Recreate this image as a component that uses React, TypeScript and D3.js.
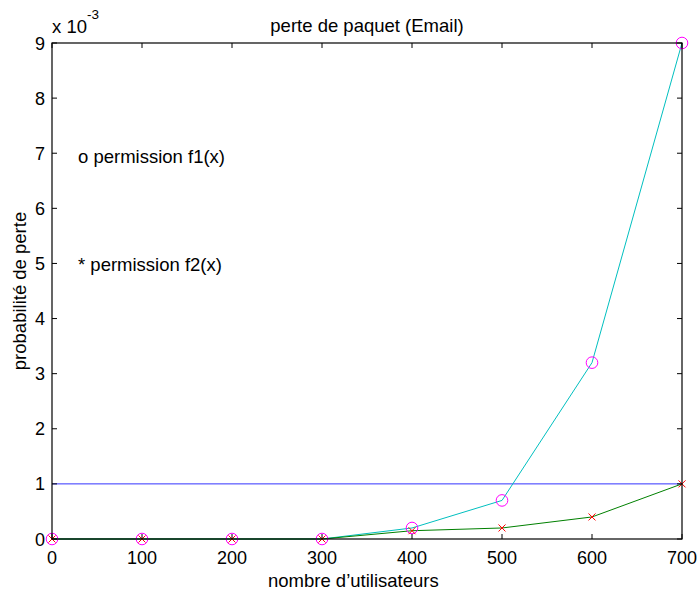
import React from "react";
import * as d3 from "d3";

const users = [0, 100, 200, 300, 400, 500, 600, 700];
const f1 = [0, 0, 0, 0, 0.0002, 0.0007, 0.0032, 0.009];
const f2 = [0, 0, 0, 0, 0.00015, 0.0002, 0.0004, 0.001];
const threshold = 0.001;
const xTicks = [0, 100, 200, 300, 400, 500, 600, 700];
const yTicks = [0, 1, 2, 3, 4, 5, 6, 7, 8, 9];

export default function App() {
  const W = 698, H = 593;
  const L = 52, R = 682, T = 43, B = 539;
  const x = d3.scaleLinear().domain([0, 700]).range([L, R]);
  const y = d3.scaleLinear().domain([0, 0.009]).range([B, T]);
  const font = "Liberation Sans, Arial, sans-serif";
  const line = d3.line<number>().x((_, i) => x(users[i])).y((d) => y(d));
  const tl = 5;
  return (
    <svg width={W} height={H} style={{ position: "absolute", left: 0, top: 0 }} fontFamily={font}>
      <rect x={0} y={0} width={W} height={H} fill="#fff" />
      <line x1={L} x2={R} y1={y(threshold)} y2={y(threshold)} stroke="#0000ff" strokeWidth={1} opacity={0.8} />
      <path d={line(f1) || ""} fill="none" stroke="#00bfbf" strokeWidth={1} />
      <path d={line(f2) || ""} fill="none" stroke="#008000" strokeWidth={1} />
      {f1.map((d, i) => (
        <circle key={"c" + i} cx={x(users[i])} cy={y(d)} r={5.8} fill="none" stroke="#ff00ff" strokeWidth={1} />
      ))}
      {f2.map((d, i) => {
        const cx = x(users[i]), cy = y(d), s = 3.5;
        return (
          <g key={"x" + i} stroke="#ff0000" strokeWidth={1}>
            <line x1={cx - s} y1={cy - s} x2={cx + s} y2={cy + s} />
            <line x1={cx - s} y1={cy + s} x2={cx + s} y2={cy - s} />
          </g>
        );
      })}
      <rect x={L} y={T} width={R - L} height={B - T} fill="none" stroke="#000" strokeWidth={1.2} />
      {xTicks.map((t) => (
        <g key={"xt" + t}>
          <line x1={x(t)} x2={x(t)} y1={B} y2={B - tl} stroke="#000" />
          <line x1={x(t)} x2={x(t)} y1={T} y2={T + tl} stroke="#000" />
          <text x={x(t)} y={564} textAnchor="middle" fontSize={18}>{t}</text>
        </g>
      ))}
      {yTicks.map((t) => (
        <g key={"yt" + t}>
          <line x1={L} x2={L + tl} y1={y(t / 1000)} y2={y(t / 1000)} stroke="#000" />
          <line x1={R} x2={R - tl} y1={y(t / 1000)} y2={y(t / 1000)} stroke="#000" />
          <text x={45} y={y(t / 1000) + 6.5} textAnchor="end" fontSize={18}>{t}</text>
        </g>
      ))}
      <text x={52} y={33} fontSize={18.5}>x 10</text>
      <text x={87} y={19} fontSize={13.5}>-3</text>
      <text x={(L + R) / 2} y={32} textAnchor="middle" fontSize={18.5}>perte de paquet (Email)</text>
      <text x={268} y={587} fontSize={18.5}>nombre d’utilisateurs</text>
      <text transform={`translate(26,${(T + B) / 2}) rotate(-90)`} textAnchor="middle" fontSize={18.5}>probabilité de perte</text>
      <text x={78} y={163} fontSize={18.5}>o permission f1(x)</text>
      <text x={78} y={271} fontSize={18.5}>* permission f2(x)</text>
    </svg>
  );
}
